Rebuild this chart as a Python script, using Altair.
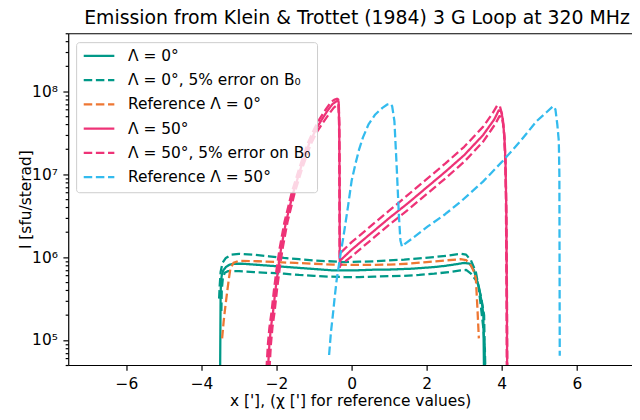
import altair as alt
import numpy as np
import pandas as pd

# ---------------- data (x in arcmin, log10 of I in sfu/sterad) -------------
series_names = ["Λ = 0°", "Λ = 0°, 5% error on B₀", "Reference Λ = 0°",
                "Λ = 50°", "Λ = 50°, 5% error on B₀", "Reference Λ = 50°"]
series_colors = ["#009988", "#009988", "#EE7733", "#EE3377", "#EE3377", "#33BBEE"]

lam0_x = [-3.505, -3.495, -3.49, -3.48, -3.46, -3.42, -3.35, -3.25, -3.1, -2.9,
          -2.6, -2.3, -2.0, -1.7, -1.4, -1.1, -0.8, -0.5, -0.2, 0.1,
          0.4, 0.7, 1.0, 1.3, 1.6, 1.9, 2.2, 2.5, 2.8, 3.0,
          3.15, 3.26, 3.39, 3.48, 3.51, 3.52, 3.53]
lam0_lg = [4.5, 5.2, 5.55, 5.7, 5.78, 5.84, 5.88, 5.91, 5.92, 5.92,
           5.91, 5.90, 5.89, 5.88, 5.87, 5.86, 5.85, 5.84, 5.84, 5.84,
           5.845, 5.85, 5.85, 5.855, 5.86, 5.87, 5.88, 5.895, 5.915, 5.93,
           5.92, 5.84, 5.64, 5.42, 5.3, 4.9, 4.5]

lam0_hi_x = [-3.53, -3.515, -3.49, -3.44, -3.35, -3.2, -3.0, -2.6, -2.2,
             -1.8, -1.4, -1.0, -0.6, -0.2, 0.2, 0.6, 1.0, 1.4, 1.8,
             2.2, 2.6, 2.9, 3.05, 3.18, 3.31, 3.38, 3.44, 3.51, 3.55, 3.57]
lam0_hi_lg = [5.5, 5.65, 5.82, 5.93, 5.99, 6.03, 6.04, 6.03, 6.01,
              5.99, 5.975, 5.96, 5.95, 5.94, 5.945, 5.95, 5.96, 5.97, 5.985,
              6.0, 6.02, 6.04, 6.03, 5.96, 5.82, 5.65, 5.42, 5.14, 4.9, 4.5]

lam0_lo_x = [-3.47, -3.46, -3.43, -3.38, -3.3, -3.0, -2.6, -2.2, -1.8, -1.4,
             -1.0, -0.6, -0.2, 0.2, 0.6, 1.0, 1.4, 1.8, 2.2, 2.6,
             2.9, 3.05, 3.18, 3.35, 3.45, 3.53, 3.545, 3.555]
lam0_lo_lg = [5.35, 5.6, 5.75, 5.81, 5.83, 5.83, 5.82, 5.81, 5.8, 5.785,
              5.775, 5.765, 5.76, 5.76, 5.765, 5.77, 5.775, 5.785, 5.8, 5.82,
              5.84, 5.845, 5.8, 5.7, 5.52, 5.3, 4.9, 4.5]

ref0_x = [-3.45, -3.41, -3.36, -3.31, -3.27, -3.23, -3.15, -3.0, -2.5, -2.0,
          -1.5, -1.0, -0.5, 0.0, 0.5, 1.0, 1.5, 2.0, 2.5, 2.9,
          3.05, 3.18, 3.26, 3.31, 3.35, 3.39]
ref0_lg = [5.02, 5.22, 5.42, 5.6, 5.74, 5.86, 5.93, 5.955, 5.95, 5.94,
           5.93, 5.92, 5.91, 5.905, 5.905, 5.91, 5.92, 5.94, 5.96, 5.975,
           5.965, 5.9, 5.82, 5.74, 5.4, 5.02]

lam50_x = [-2.235, -2.22, -2.19, -2.15, -2.09, -2.03, -1.96, -1.88, -1.75, -1.56,
           -1.35, -1.13, -0.95, -0.82, -0.65, -0.51, -0.42, -0.37, -0.345, -0.33,
           -0.322, -0.318, -0.315, -0.3, 0.0, 0.5, 1.0, 1.5, 2.0, 2.5,
           3.0, 3.5, 3.8, 3.92, 3.98, 4.03, 4.07, 4.1, 4.12, 4.135, 4.145]
lam50_lg = [4.5, 4.72, 4.95, 5.15, 5.35, 5.6, 5.85, 6.1, 6.42, 6.77,
            7.08, 7.37, 7.54, 7.64, 7.76, 7.845, 7.875, 7.885, 7.87, 7.6,
            7.0, 6.4, 5.93, 5.96, 6.09, 6.28, 6.47, 6.65, 6.84, 7.03,
            7.23, 7.47, 7.66, 7.77, 7.76, 7.66, 7.45, 7.15, 6.6, 5.6, 4.5]

lam50_hi_x = [-2.275, -2.26, -2.23, -2.19, -2.13, -2.07, -2.0, -1.92, -1.79, -1.6,
              -1.39, -1.17, -0.99, -0.86, -0.69, -0.55, -0.45, -0.39, -0.355, -0.335,
              -0.325, -0.32, -0.316, -0.3, 0.0, 0.5, 1.0, 1.5, 2.0, 2.5,
              3.0, 3.5, 3.75, 3.88, 3.95, 4.01, 4.06, 4.09, 4.11, 4.125, 4.135]
lam50_hi_lg = [4.5, 4.72, 4.95, 5.15, 5.35, 5.6, 5.85, 6.1, 6.42, 6.77,
               7.08, 7.37, 7.55, 7.66, 7.78, 7.87, 7.9, 7.91, 7.9, 7.6,
               7.0, 6.4, 6.0, 6.05, 6.18, 6.37, 6.56, 6.75, 6.94, 7.13,
               7.33, 7.57, 7.73, 7.83, 7.82, 7.72, 7.5, 7.2, 6.7, 5.7, 4.5]

lam50_lo_x = [-2.195, -2.18, -2.15, -2.11, -2.05, -1.99, -1.92, -1.84, -1.71, -1.52,
              -1.31, -1.09, -0.91, -0.78, -0.61, -0.48, -0.4, -0.36, -0.34, -0.328,
              -0.32, -0.316, -0.312, -0.3, 0.0, 0.5, 1.0, 1.5, 2.0, 2.5,
              3.0, 3.5, 3.82, 3.94, 4.0, 4.04, 4.08, 4.105, 4.125, 4.14, 4.15]
lam50_lo_lg = [4.5, 4.72, 4.95, 5.15, 5.35, 5.6, 5.85, 6.1, 6.42, 6.77,
               7.08, 7.36, 7.52, 7.61, 7.72, 7.8, 7.83, 7.84, 7.83, 7.6,
               7.0, 6.4, 5.88, 5.9, 6.01, 6.2, 6.39, 6.57, 6.76, 6.95,
               7.15, 7.39, 7.6, 7.7, 7.69, 7.6, 7.4, 7.1, 6.5, 5.5, 4.5]

ref50_x = [-0.6, -0.55, -0.5, -0.45, -0.4, -0.3, -0.2, -0.1, 0.0, 0.1,
           0.2, 0.3, 0.45, 0.63, 0.82, 0.95, 1.03, 1.08, 1.14, 1.2,
           1.26, 1.3, 1.34, 1.38, 1.42, 1.6, 2.03, 2.5, 2.91, 3.5,
           4.05, 4.5, 4.93, 5.2, 5.37, 5.43, 5.48, 5.52, 5.535, 5.54, 5.545]
ref50_lg = [4.82, 5.1, 5.3, 5.52, 5.72, 6.02, 6.3, 6.6, 6.92, 7.12,
            7.3, 7.44, 7.6, 7.72, 7.8, 7.84, 7.85, 7.82, 7.64, 7.1,
            6.5, 6.2, 6.13, 6.13, 6.16, 6.22, 6.37, 6.52, 6.67, 6.91,
            7.17, 7.4, 7.64, 7.75, 7.82, 7.78, 7.6, 7.4, 7.0, 6.0, 4.81]

x_ticks = [-6, -4, -2, 0, 2, 4, 6]
y_major = [1e5, 1e6, 1e7, 1e8]
y_major_labels = ["10⁵", "10⁶", "10⁷", "10⁸"]
y_minor = [5e4, 6e4, 7e4, 8e4, 9e4,
           2e5, 3e5, 4e5, 5e5, 6e5, 7e5, 8e5, 9e5,
           2e6, 3e6, 4e6, 5e6, 6e6, 7e6, 8e6, 9e6,
           2e7, 3e7, 4e7, 5e7, 6e7, 7e7, 8e7, 9e7,
           2e8, 3e8, 4e8, 5e8]

# ---------------- table ----------------
curves = [
    (0, "a", lam0_x, lam0_lg),
    (1, "b1", lam0_hi_x, lam0_hi_lg),
    (1, "b2", lam0_lo_x, lam0_lo_lg),
    (2, "c", ref0_x, ref0_lg),
    (3, "d", lam50_x, lam50_lg),
    (4, "e1", lam50_hi_x, lam50_hi_lg),
    (4, "e2", lam50_lo_x, lam50_lo_lg),
    (5, "f", ref50_x, ref50_lg),
]
rows = []
k = 0
for s, cid, xs, lgs in curves:
    for xv, lv in zip(xs, lgs):
        rows.append({"x": xv, "I": float(10 ** lv), "series": series_names[s],
                     "curve": cid, "idx": k})
        k += 1
df = pd.DataFrame(rows)

DASH = [8.6, 3.7]
series_dashes = [[1, 0], DASH, DASH, [1, 0], DASH, DASH]

FONT = "DejaVu Sans"
label_expr = " : ".join(
    f"datum.value == {v!r} ? '{t}'" for v, t in zip(y_major, y_major_labels)
) + " : ''"
major_list = "[" + ",".join(repr(v) for v in y_major) + "]"

legend = alt.Legend(
    title=None, orient="none", legendX=8, legendY=9,
    symbolType="M-3.1,0H3.1", symbolSize=100, symbolStrokeWidth=2.3,
    symbolOffset=9.4, labelOffset=21.5,
    labelFont=FONT, labelFontSize=15.6, labelColor="black", labelLimit=400,
    padding=6, rowPadding=7.6,
    fillColor="rgba(255,255,255,0.8)", strokeColor="#cccccc", cornerRadius=3,
)

xscale = alt.Scale(domain=[-7.55, 7.47], nice=False, zero=False)

lines = alt.Chart(df).mark_line(strokeWidth=2.3, clip=True, strokeJoin="round").encode(
    x=alt.X("x:Q", scale=xscale,
            axis=alt.Axis(values=x_ticks, title="x ['], (χ ['] for reference values)",
                          tickSize=5.4, labelPadding=6, titlePadding=2, grid=False)),
    y=alt.Y("I:Q", scale=alt.Scale(type="log", domain=[5e4, 5e8], nice=False),
            axis=alt.Axis(values=sorted(y_minor + y_major), labelExpr=label_expr,
                          tickSize={"condition": {"test": f"indexof({major_list}, datum.value) >= 0",
                                                  "value": 5.4}, "value": 3.1},
                          labelPadding=5.6, title="I [sfu/sterad]", titlePadding=-2, grid=False)),
    color=alt.Color("series:N", scale=alt.Scale(domain=series_names, range=series_colors),
                    legend=legend),
    strokeDash=alt.StrokeDash("series:N", scale=alt.Scale(domain=series_names, range=series_dashes),
                              legend=legend),
    detail="curve:N",
    order="idx:Q",
)

top = alt.Chart(df).mark_point(opacity=0).encode(
    x=alt.X("x:Q", scale=xscale,
            axis=alt.Axis(orient="top", labels=False, ticks=False, title=None, grid=False)),
)

chart = alt.layer(lines, top).resolve_axis(x="independent").properties(
    width=571, height=336,
    padding={"left": 61, "top": 23, "right": 0, "bottom": 45},
    autosize=alt.AutoSizeParams(type="none"),
    title=alt.TitleParams("Emission from Klein & Trottet (1984) 3 G Loop at 320 MHz",
                          font=FONT, fontSize=19.1, fontWeight="normal", color="black",
                          anchor="middle", frame="group", offset=5, dx=7),
).configure(font=FONT).configure_view(stroke=None).configure_axis(
    domainColor="black", domainWidth=1.2, tickColor="black", tickWidth=1.2,
    labelColor="black", labelFont=FONT, labelFontSize=15.6,
    titleColor="black", titleFont=FONT, titleFontSize=15.6, titleFontWeight="normal",
)

chart.save("out.html", embed_options={"renderer": "svg", "actions": False})
